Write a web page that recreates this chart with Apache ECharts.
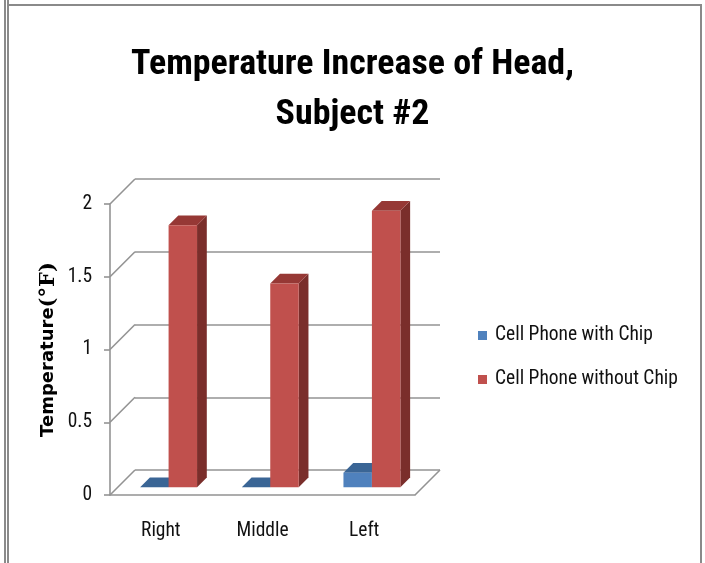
<!DOCTYPE html>
<html><head><meta charset="utf-8">
<script src="https://cdn.jsdelivr.net/npm/echarts@6/dist/echarts.min.js"></script>
<style>html,body{margin:0;padding:0;background:#fff}#c{width:705px;height:563px}</style>
</head><body><div id="c"></div>
<script>
const categories = ['Right', 'Middle', 'Left'];
const withChip = [0, 0, 0.1];
const withoutChip = [1.8, 1.4, 1.9];
const yTicks = [0, 0.5, 1, 1.5, 2];
const seriesNames = ['Cell Phone with Chip', 'Cell Phone without Chip'];
const titleLines = ['Temperature Increase of Head,', 'Subject #2'];

const DX = 25, DY = -25;          // depth offset of back wall
const F1 = 0.31, F2 = 0.70;       // bar front/back depth fraction
const BAR = 0.28;                 // bar width as fraction of band
const GRID_C = '#939393', GRID_W = 1.6;

// pick a condensed font that is installed, size it to the reference widths
const ctx = document.createElement('canvas').getContext('2d');
function measure(font, text) { ctx.font = font; return ctx.measureText(text).width; }
function hasFont(f) {
  const t = 'Cell Phone with Chip 0.5 WwIi';
  return measure('40px monospace', t) !== measure('40px "' + f + '", monospace', t) ||
         measure('40px serif', t) !== measure('40px "' + f + '", serif', t);
}
const candidates = ['Liberation Sans Narrow', 'Arial Narrow', 'Noto Sans Condensed', 'Roboto Condensed',
  'Open Sans Condensed', 'Noto Sans SemiCondensed', 'DejaVu Sans Condensed', 'Liberation Sans'];
const FAM = candidates.find(hasFont) || 'sans-serif';
const NARROW = '"' + FAM + '", sans-serif';
const txtSize = Math.min(21, 158 / measure('100px ' + NARROW, seriesNames[0]) * 100);
const titleSize = Math.min(38, 443 / measure('bold 100px ' + NARROW, titleLines[0]) * 100);

const faceColors = [
  {front: '#4F81BD', top: '#3A6595', side: '#2E5079'},
  {front: '#C0504D', top: '#963835', side: '#7A2E2B'}
];

function barRenderer(s) {
  return function (params, api) {
    const cat = api.value(0), val = api.value(1);
    const p0 = api.coord([cat, 0]);
    const p1 = api.coord([cat, val]);
    const bw = api.size([1, 0])[0];
    const w = bw * BAR;
    const xl = p0[0] - w + s * w, xr = xl + w;
    const y0 = p0[1], y1 = p1[1];
    const fx = DX * F1, fy = DY * F1, bx = DX * F2, by = DY * F2;
    const c = faceColors[s];
    return {type: 'group', children: [
      {type: 'polygon', shape: {points: [[xr + fx, y1 + fy], [xr + bx, y1 + by], [xr + bx, y0 + by], [xr + fx, y0 + fy]]}, style: {fill: c.side}},
      {type: 'polygon', shape: {points: [[xl + fx, y1 + fy], [xl + bx, y1 + by], [xr + bx, y1 + by], [xr + fx, y1 + fy]]}, style: {fill: c.top}},
      {type: 'rect', shape: {x: xl + fx, y: y1 + fy, width: w, height: y0 - y1}, style: {fill: c.front}}
    ]};
  };
}

function diagRenderer(params, api) {
  const v = api.value(1);
  const cs = params.coordSys;
  const y = api.coord([0, v])[1];
  const st = {stroke: GRID_C, lineWidth: GRID_W};
  const children = [{type: 'line', shape: {x1: cs.x, y1: y, x2: cs.x + DX, y2: y + DY}, style: st}];
  if (v === yTicks[0]) {
    children.push({type: 'line', shape: {x1: cs.x + cs.width, y1: y, x2: cs.x + cs.width + DX, y2: y + DY}, style: st});
  }
  return {type: 'group', children};
}

const chart = echarts.init(document.getElementById('c'), null, {renderer: 'canvas'});
const frontGrid = {left: 110, top: 204, width: 305, height: 291};
const option = {
  animation: false,
  backgroundColor: '#fff',
  color: [faceColors[0].front, faceColors[1].front],
  title: {
    text: titleLines.join('\n'),
    left: 'center',
    top: 40,
    padding: [0, 0, 0, 7],
    textStyle: {fontFamily: NARROW, fontWeight: 'bold', fontSize: titleSize, lineHeight: 50, color: '#000'}
  },
  legend: {
    data: seriesNames,
    orient: 'vertical',
    left: 473, top: 321,
    itemWidth: 9, itemHeight: 9, itemGap: 25,
    icon: 'rect',
    textStyle: {fontFamily: NARROW, fontSize: txtSize, color: '#111', padding: [0, 0, 0, 3]}
  },
  grid: [
    frontGrid,
    {left: frontGrid.left + DX, top: frontGrid.top + DY, width: frontGrid.width, height: frontGrid.height}
  ],
  xAxis: [
    {type: 'category', gridIndex: 0, data: categories,
     axisLine: {lineStyle: {color: GRID_C, width: GRID_W}},
     axisTick: {length: 8, lineStyle: {color: GRID_C, width: GRID_W}},
     axisLabel: {fontFamily: NARROW, fontSize: txtSize, color: '#111', margin: 27}},
    {type: 'category', gridIndex: 1, data: categories, show: false}
  ],
  yAxis: [
    {type: 'value', gridIndex: 0, min: 0, max: 2, interval: 0.5,
     axisLine: {show: true, lineStyle: {color: GRID_C, width: GRID_W}},
     axisTick: {show: true, length: 6, lineStyle: {color: GRID_C, width: GRID_W}},
     splitLine: {show: false},
     axisLabel: {fontFamily: NARROW, fontSize: txtSize, color: '#111', margin: 18, padding: [4, 0, 0, 0]},
     name: '{a|Temperature}{b|(°F)}',
     nameLocation: 'middle', nameGap: 51,
     nameTextStyle: {rich: {
       a: {fontFamily: '"DejaVu Sans", sans-serif', fontWeight: 'bold', fontSize: 18, color: '#000'},
       b: {fontFamily: '"DejaVu Serif", "Liberation Serif", serif', fontWeight: 'bold', fontSize: 21, color: '#000'}
     }}},
    {type: 'value', gridIndex: 1, min: 0, max: 2, interval: 0.5,
     axisLine: {show: false}, axisTick: {show: false}, axisLabel: {show: false},
     splitLine: {show: true, lineStyle: {color: GRID_C, width: GRID_W}}}
  ],
  series: [
    {type: 'custom', name: 'diag', xAxisIndex: 0, yAxisIndex: 0, silent: true,
     data: yTicks.map(v => [0, v]), renderItem: diagRenderer, z: 1},
    {type: 'custom', name: seriesNames[0], xAxisIndex: 0, yAxisIndex: 0,
     itemStyle: {color: faceColors[0].front},
     data: withChip.map((v, i) => [i, v]), renderItem: barRenderer(0), z: 2},
    {type: 'custom', name: seriesNames[1], xAxisIndex: 0, yAxisIndex: 0,
     itemStyle: {color: faceColors[1].front},
     data: withoutChip.map((v, i) => [i, v]), renderItem: barRenderer(1), z: 3}
  ],
  graphic: [
    {type: 'line', shape: {x1: 5, y1: 0, x2: 5, y2: 563}, style: {stroke: '#8a8a8a', lineWidth: 2}, silent: true},
    {type: 'line', shape: {x1: 8, y1: 0, x2: 8, y2: 563}, style: {stroke: '#8a8a8a', lineWidth: 2}, silent: true},
    {type: 'line', shape: {x1: 8, y1: 5, x2: 702, y2: 5}, style: {stroke: '#8a8a8a', lineWidth: 2}, silent: true},
    {type: 'line', shape: {x1: 701, y1: 4, x2: 701, y2: 563}, style: {stroke: '#8a8a8a', lineWidth: 2}, silent: true}
  ]
};
chart.setOption(option);
</script>
</body></html>
